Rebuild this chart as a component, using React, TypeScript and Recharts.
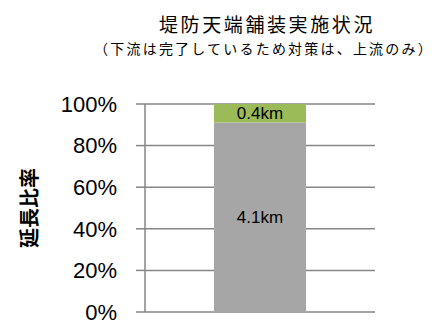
import React from 'react';
import { BarChart, Bar, XAxis, YAxis, CartesianGrid, LabelList, Label } from 'recharts';

const categories = ['上流'];
const doneKm = [4.1];
const remainKm = [0.4];
const yTicks = [0, 0.2, 0.4, 0.6, 0.8, 1];

const rows = categories.map((name, i) => ({ name, done: doneKm[i], remain: remainKm[i] }));

const cjk = '"Noto Sans CJK JP", sans-serif';
const latin = '"Liberation Sans", Arial, sans-serif';

const App: React.FC = () => (
  <div style={{ position: 'absolute', left: 0, top: 0, width: 439, height: 327, background: '#fff' }}>
    <div style={{ position: 'absolute', left: 267, top: 12, transform: 'translateX(-50%)', whiteSpace: 'nowrap', fontFamily: cjk, fontSize: 19, letterSpacing: 2.6, lineHeight: '24px', color: '#000' }}>
      堤防天端舗装実施状況
    </div>
    <div style={{ position: 'absolute', left: 264, top: 39, transform: 'translateX(-50%)', whiteSpace: 'nowrap', fontFamily: cjk, fontSize: 14, letterSpacing: 2.2, lineHeight: '18px', color: '#000' }}>
      （下流は完了しているため対策は、上流のみ）
    </div>
    <BarChart width={439} height={327} data={rows} stackOffset="expand" margin={{ top: 104, right: 64, bottom: 15, left: 0 }}>
      <CartesianGrid vertical={false} stroke="#868686" strokeWidth={1.5} />
      <XAxis dataKey="name" hide />
      <YAxis
        width={145}
        domain={[0, 1]}
        ticks={yTicks}
        tickFormatter={(v: number) => `${Math.round(v * 100)}%`}
        tickSize={9}
        tickMargin={19}
        axisLine={{ stroke: '#868686', strokeWidth: 1.5 }}
        tickLine={{ stroke: '#868686', strokeWidth: 1.5 }}
        tick={{ fill: '#000', fontSize: 22, fontFamily: latin }}
      >
        <Label
          value="延長比率"
          angle={-90}
          position="insideLeft"
          offset={30}
          style={{ textAnchor: 'middle', fontFamily: cjk, fontSize: 20, fontWeight: 'bold', fill: '#000' }}
        />
      </YAxis>
      <Bar dataKey="done" stackId="a" fill="#A6A6A6" barSize={92} isAnimationActive={false}>
        <LabelList dataKey="done" position="center" formatter={(v: any) => `${v}km`} style={{ fill: '#000', fontSize: 17, fontFamily: latin }} />
      </Bar>
      <Bar dataKey="remain" stackId="a" fill="#9BBB59" barSize={92} isAnimationActive={false}>
        <LabelList dataKey="remain" position="center" formatter={(v: any) => `${v}km`} style={{ fill: '#000', fontSize: 17, fontFamily: latin }} />
      </Bar>
    </BarChart>
  </div>
);

export default App;
